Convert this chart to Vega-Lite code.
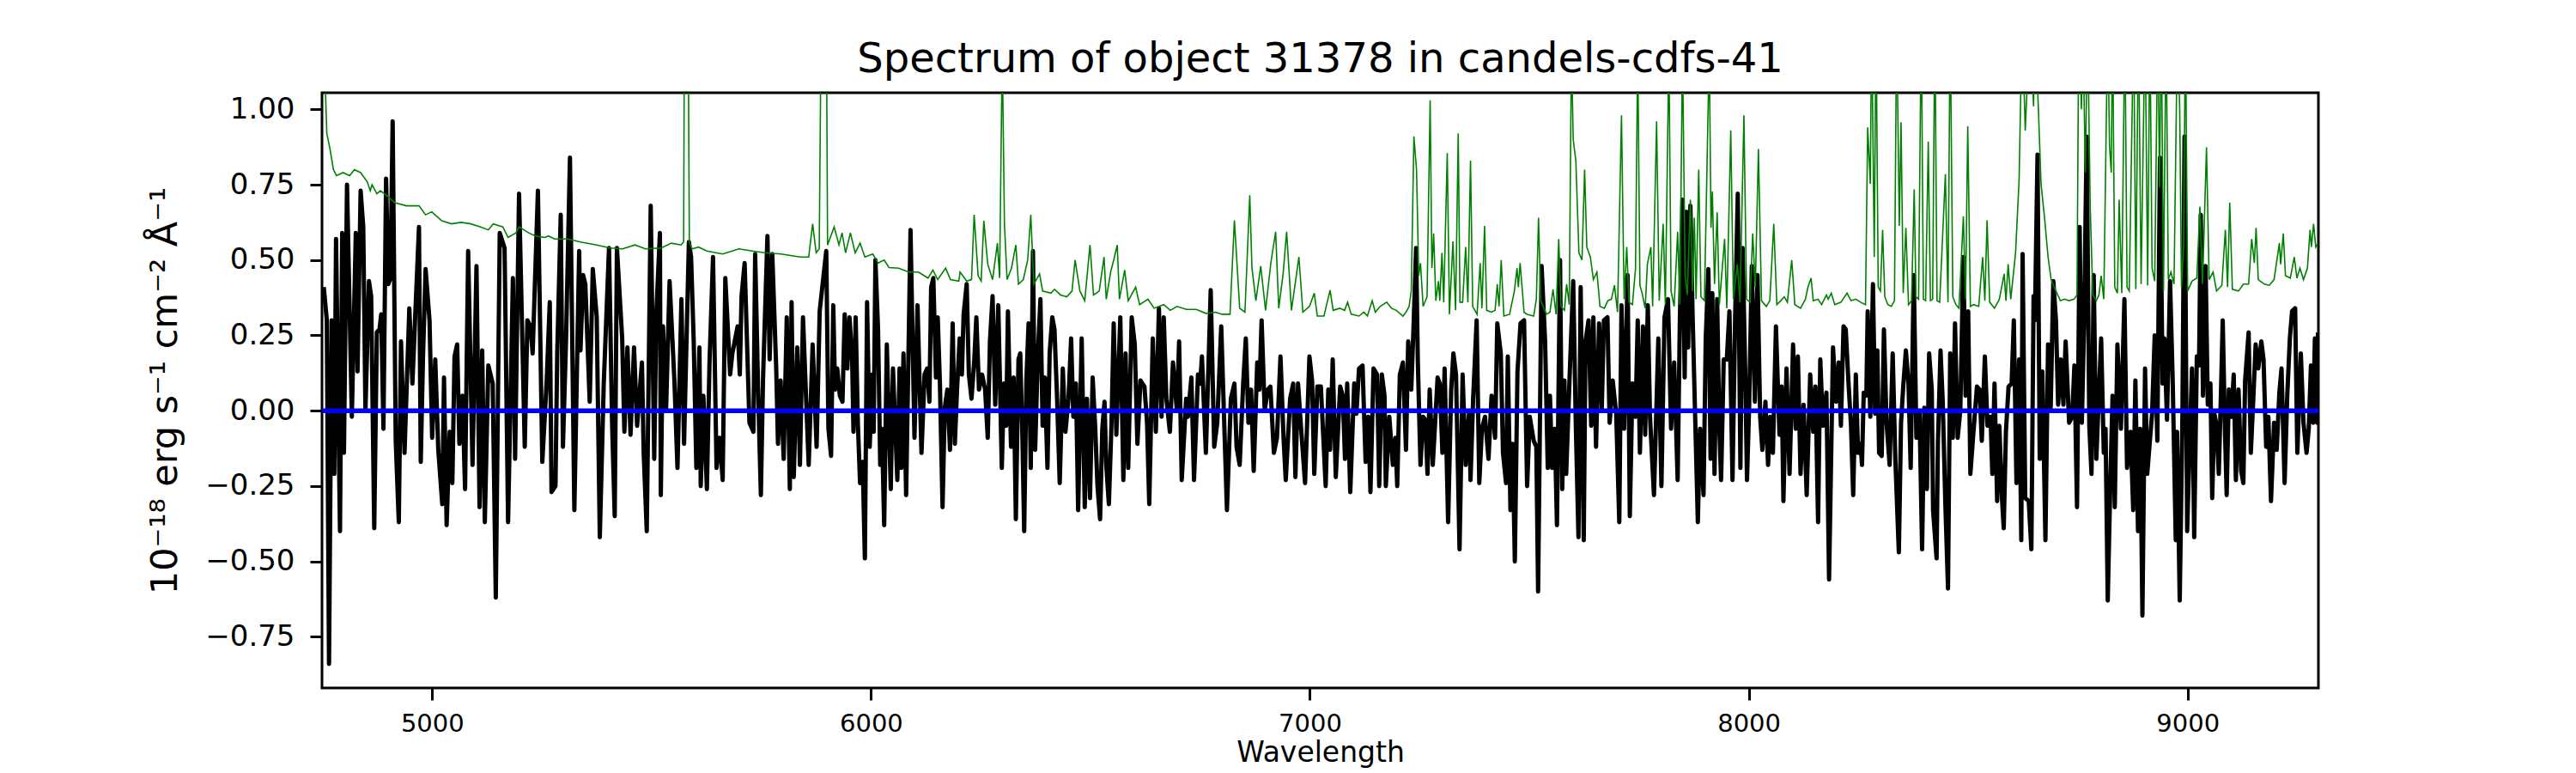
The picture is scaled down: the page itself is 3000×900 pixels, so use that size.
{
  "$schema": "https://vega.github.io/schema/vega-lite/v6.json",
  "width": 2325,
  "height": 693,
  "autosize": {"type": "none"},
  "padding": {"left": 375, "top": 108, "right": 300, "bottom": 99},
  "background": "white",
  "title": {
    "text": "Spectrum of object 31378 in candels-cdfs-41",
    "font": "DejaVu Sans",
    "fontSize": 48,
    "fontWeight": "normal",
    "color": "black",
    "anchor": "middle",
    "offset": 14
  },
  "datasets": {
    "model": [
      {"w":4749,"f":0},{"w":5000,"f":0},{"w":5500,"f":0},{"w":6000,"f":0},{"w":6500,"f":0},{"w":7000,"f":0},{"w":7500,"f":0},{"w":8000,"f":0},{"w":8500,"f":0},{"w":9000,"f":0},{"w":9298,"f":0}
    ],
    "flux": [
      {"w":4753,"f":0.41},{"w":4760,"f":0.30},{"w":4765,"f":-0.84},{"w":4771,"f":0.30},{"w":4777,"f":-0.21},{"w":4781,"f":0.57},{"w":4790,"f":-0.40},{"w":4795,"f":0.59},{"w":4799,"f":-0.14},{"w":4806,"f":0.75},{"w":4817,"f":-0.02},{"w":4826,"f":0.59},{"w":4830,"f":0.13},{"w":4837,"f":0.73},{"w":4843,"f":0.61},{"w":4848,"f":0.00},{"w":4856,"f":0.43},{"w":4861,"f":0.38},{"w":4868,"f":-0.39},{"w":4874,"f":0.26},{"w":4880,"f":0.27},{"w":4884,"f":0.32},{"w":4889,"f":-0.06},{"w":4895,"f":0.77},{"w":4900,"f":0.42},{"w":4905,"f":0.44},{"w":4910,"f":0.96},{"w":4917,"f":-0.10},{"w":4924,"f":-0.37},{"w":4929,"f":0.23},{"w":4937,"f":-0.14},{"w":4948,"f":0.34},{"w":4955,"f":0.09},{"w":4963,"f":0.37},{"w":4970,"f":0.61},{"w":4974,"f":-0.17},{"w":4979,"f":0.17},{"w":4985,"f":0.47},{"w":4994,"f":0.30},{"w":5000,"f":-0.09},
      {"w":5007,"f":0.17},{"w":5014,"f":-0.13},{"w":5023,"f":-0.31},{"w":5027,"f":0.11},{"w":5033,"f":-0.38},{"w":5040,"f":-0.07},{"w":5046,"f":-0.24},{"w":5051,"f":0.18},{"w":5057,"f":0.22},{"w":5062,"f":-0.11},{"w":5069,"f":0.05},{"w":5075,"f":-0.26},{"w":5082,"f":0.53},{"w":5092,"f":-0.18},{"w":5101,"f":0.48},{"w":5108,"f":-0.32},{"w":5114,"f":0.20},{"w":5120,"f":-0.37},{"w":5128,"f":0.15},{"w":5138,"f":0.09},{"w":5145,"f":-0.62},{"w":5154,"f":0.59},{"w":5165,"f":0.54},{"w":5173,"f":-0.37},{"w":5184,"f":0.44},{"w":5189,"f":-0.16},{"w":5198,"f":0.72},{"w":5211,"f":-0.12},{"w":5217,"f":0.30},{"w":5224,"f":0.28},{"w":5229,"f":0.19},{"w":5241,"f":0.73},{"w":5251,"f":-0.17},{"w":5261,"f":0.10},{"w":5268,"f":0.36},{"w":5272,"f":-0.27},{"w":5281,"f":-0.25},{"w":5285,"f":0.19},{"w":5293,"f":0.65},{"w":5298,"f":-0.12},
      {"w":5305,"f":0.23},{"w":5314,"f":0.84},{"w":5324,"f":-0.33},{"w":5335,"f":0.53},{"w":5338,"f":0.20},{"w":5344,"f":0.45},{"w":5349,"f":0.42},{"w":5359,"f":0.03},{"w":5366,"f":0.47},{"w":5375,"f":0.31},{"w":5382,"f":-0.42},{"w":5391,"f":0.09},{"w":5403,"f":0.54},{"w":5410,"f":-0.04},{"w":5416,"f":-0.35},{"w":5421,"f":0.54},{"w":5433,"f":0.24},{"w":5438,"f":-0.07},{"w":5445,"f":0.21},{"w":5452,"f":-0.08},{"w":5460,"f":0.21},{"w":5467,"f":-0.05},{"w":5478,"f":0.16},{"w":5482,"f":-0.14},{"w":5489,"f":-0.40},{"w":5498,"f":0.68},{"w":5506,"f":-0.16},{"w":5511,"f":0.33},{"w":5519,"f":0.59},{"w":5521,"f":-0.28},{"w":5526,"f":0.28},{"w":5533,"f":0.00},{"w":5541,"f":0.43},{"w":5552,"f":0.10},{"w":5559,"f":-0.19},{"w":5568,"f":0.37},{"w":5574,"f":-0.11},{"w":5585,"f":0.56},{"w":5590,"f":0.51},{"w":5596,"f":0.23},
      {"w":5602,"f":-0.19},{"w":5609,"f":0.21},{"w":5612,"f":-0.25},{"w":5618,"f":0.05},{"w":5626,"f":-0.26},{"w":5632,"f":0.16},{"w":5640,"f":0.51},{"w":5648,"f":-0.19},{"w":5655,"f":-0.09},{"w":5662,"f":-0.23},{"w":5668,"f":0.44},{"w":5679,"f":0.12},{"w":5684,"f":0.19},{"w":5696,"f":0.28},{"w":5701,"f":0.12},{"w":5705,"f":0.38},{"w":5712,"f":0.49},{"w":5723,"f":-0.04},{"w":5732,"f":-0.07},{"w":5736,"f":0.52},{"w":5743,"f":0.05},{"w":5749,"f":-0.28},{"w":5754,"f":0.11},{"w":5764,"f":0.58},{"w":5769,"f":0.17},{"w":5775,"f":0.52},{"w":5784,"f":0.14},{"w":5788,"f":-0.11},{"w":5794,"f":0.10},{"w":5801,"f":-0.16},{"w":5808,"f":0.31},{"w":5815,"f":-0.26},{"w":5819,"f":0.36},{"w":5824,"f":-0.22},{"w":5832,"f":0.21},{"w":5838,"f":-0.18},{"w":5845,"f":0.31},{"w":5850,"f":0.12},{"w":5858,"f":-0.18},{"w":5867,"f":0.22},{"w":5876,"f":-0.12},{"w":5883,"f":0.33},
      {"w":5898,"f":0.53},{"w":5903,"f":-0.06},{"w":5909,"f":-0.15},{"w":5914,"f":0.35},{"w":5918,"f":0.07},{"w":5923,"f":0.14},{"w":5929,"f":0.05},{"w":5935,"f":0.03},{"w":5940,"f":0.32},{"w":5946,"f":0.14},{"w":5951,"f":0.31},{"w":5957,"f":0.17},{"w":5960,"f":-0.07},{"w":5965,"f":0.31},{"w":5970,"f":-0.04},{"w":5975,"f":-0.24},{"w":5981,"f":-0.17},{"w":5986,"f":-0.49},{"w":5991,"f":0.36},{"w":5997,"f":-0.12},{"w":6003,"f":0.12},{"w":6006,"f":-0.07},{"w":6010,"f":0.50},{"w":6016,"f":0.27},{"w":6021,"f":-0.18},{"w":6025,"f":-0.06},{"w":6030,"f":-0.38},{"w":6036,"f":0.22},{"w":6045,"f":-0.26},{"w":6050,"f":0.14},{"w":6060,"f":-0.23},{"w":6065,"f":0.14},{"w":6069,"f":-0.19},{"w":6074,"f":0.19},{"w":6080,"f":-0.28},{"w":6090,"f":0.60},{"w":6099,"f":-0.09},{"w":6106,"f":0.35},{"w":6115,"f":-0.14},{"w":6122,"f":0.12},
      {"w":6128,"f":0.14},{"w":6133,"f":0.03},{"w":6137,"f":0.41},{"w":6142,"f":0.44},{"w":6148,"f":0.11},{"w":6152,"f":0.31},{"w":6157,"f":0.09},{"w":6163,"f":-0.32},{"w":6168,"f":0.01},{"w":6174,"f":0.07},{"w":6180,"f":-0.13},{"w":6186,"f":0.29},{"w":6191,"f":-0.11},{"w":6196,"f":0.07},{"w":6202,"f":0.24},{"w":6207,"f":0.12},{"w":6211,"f":0.32},{"w":6218,"f":0.42},{"w":6223,"f":0.12},{"w":6229,"f":0.04},{"w":6235,"f":0.16},{"w":6240,"f":0.31},{"w":6246,"f":0.07},{"w":6253,"f":0.12},{"w":6260,"f":0.07},{"w":6266,"f":-0.09},{"w":6271,"f":0.23},{"w":6277,"f":0.38},{"w":6283,"f":0.02},{"w":6290,"f":0.35},{"w":6298,"f":-0.19},{"w":6303,"f":0.09},{"w":6308,"f":-0.05},{"w":6312,"f":0.33},{"w":6319,"f":-0.12},{"w":6325,"f":0.11},{"w":6330,"f":-0.36},{"w":6336,"f":0.17},{"w":6340,"f":0.19},{"w":6345,"f":-0.09},
      {"w":6349,"f":-0.40},{"w":6354,"f":0.10},{"w":6359,"f":0.29},{"w":6364,"f":-0.19},{"w":6369,"f":0.53},{"w":6374,"f":-0.13},{"w":6380,"f":0.18},{"w":6386,"f":0.37},{"w":6391,"f":-0.05},{"w":6396,"f":0.11},{"w":6402,"f":-0.19},{"w":6407,"f":0.19},{"w":6413,"f":0.31},{"w":6418,"f":0.27},{"w":6424,"f":0.04},{"w":6430,"f":-0.24},{"w":6437,"f":0.14},{"w":6443,"f":-0.07},{"w":6450,"f":0.04},{"w":6456,"f":0.24},{"w":6461,"f":-0.02},{"w":6467,"f":0.09},{"w":6472,"f":-0.33},{"w":6480,"f":0.24},{"w":6487,"f":-0.32},{"w":6492,"f":0.04},{"w":6499,"f":-0.29},{"w":6505,"f":0.11},{"w":6511,"f":-0.06},{"w":6516,"f":-0.25},{"w":6522,"f":-0.36},{"w":6527,"f":-0.06},{"w":6532,"f":0.03},{"w":6536,"f":-0.18},{"w":6542,"f":-0.31},{"w":6548,"f":-0.04},{"w":6553,"f":0.29},{"w":6559,"f":-0.08},{"w":6568,"f":0.31},{"w":6575,"f":-0.23},
      {"w":6580,"f":0.19},{"w":6586,"f":-0.19},{"w":6594,"f":0.31},{"w":6601,"f":0.22},{"w":6607,"f":-0.11},{"w":6614,"f":0.10},{"w":6623,"f":0.08},{"w":6629,"f":-0.04},{"w":6634,"f":-0.31},{"w":6642,"f":0.24},{"w":6649,"f":-0.07},{"w":6656,"f":0.34},{"w":6662,"f":-0.02},{"w":6667,"f":0.31},{"w":6673,"f":0.04},{"w":6681,"f":-0.07},{"w":6688,"f":0.16},{"w":6697,"f":0.00},{"w":6702,"f":0.23},{"w":6708,"f":-0.23},{"w":6718,"f":0.04},{"w":6722,"f":-0.02},{"w":6730,"f":0.11},{"w":6736,"f":-0.23},{"w":6745,"f":0.12},{"w":6750,"f":0.09},{"w":6754,"f":0.18},{"w":6763,"f":-0.14},{"w":6774,"f":0.40},{"w":6782,"f":-0.12},{"w":6789,"f":-0.04},{"w":6798,"f":0.28},{"w":6811,"f":-0.33},{"w":6820,"f":0.04},{"w":6828,"f":0.09},{"w":6833,"f":-0.12},{"w":6840,"f":-0.18},{"w":6848,"f":0.09},{"w":6854,"f":0.24},{"w":6860,"f":-0.04},
      {"w":6866,"f":0.07},{"w":6872,"f":-0.20},{"w":6880,"f":0.16},{"w":6885,"f":0.07},{"w":6890,"f":0.30},{"w":6897,"f":0.00},{"w":6904,"f":0.07},{"w":6910,"f":0.08},{"w":6918,"f":-0.14},{"w":6925,"f":-0.09},{"w":6933,"f":0.18},{"w":6940,"f":-0.09},{"w":6945,"f":-0.23},{"w":6955,"f":0.04},{"w":6962,"f":0.09},{"w":6967,"f":-0.22},{"w":6973,"f":0.09},{"w":6980,"f":-0.06},{"w":6989,"f":-0.24},{"w":6999,"f":0.18},{"w":7005,"f":0.10},{"w":7010,"f":-0.21},{"w":7017,"f":0.08},{"w":7025,"f":0.08},{"w":7036,"f":-0.25},
      {"w":7042,"f":0.07},{"w":7046,"f":-0.13},{"w":7052,"f":0.17},{"w":7059,"f":-0.22},{"w":7069,"f":0.08},{"w":7075,"f":0.05},{"w":7080,"f":-0.16},{"w":7085,"f":0.09},{"w":7092,"f":-0.27},{"w":7101,"f":0.09},{"w":7106,"f":-0.01},{"w":7112,"f":0.14},{"w":7120,"f":0.15},{"w":7127,"f":-0.17},{"w":7133,"f":-0.02},{"w":7138,"f":-0.27},{"w":7145,"f":0.14},{"w":7153,"f":0.12},{"w":7158,"f":-0.25},{"w":7164,"f":0.12},{"w":7170,"f":0.05},{"w":7173,"f":-0.25},{"w":7181,"f":-0.02},{"w":7189,"f":-0.18},{"w":7195,"f":-0.09},{"w":7199,"f":-0.25},{"w":7205,"f":0.12},{"w":7212,"f":0.16},{"w":7219,"f":-0.13},{"w":7224,"f":0.23},{"w":7231,"f":0.07},{"w":7236,"f":0.27},{"w":7242,"f":0.54},{"w":7246,"f":0.16},{"w":7252,"f":-0.18},{"w":7258,"f":-0.02},{"w":7263,"f":-0.03},{"w":7268,"f":-0.21},{"w":7273,"f":0.07},{"w":7280,"f":-0.18},
      {"w":7285,"f":-0.05},{"w":7291,"f":0.11},{"w":7296,"f":0.09},{"w":7302,"f":-0.14},{"w":7307,"f":0.14},{"w":7315,"f":-0.37},{"w":7322,"f":0.07},{"w":7327,"f":0.19},{"w":7333,"f":0.12},{"w":7341,"f":-0.46},{"w":7348,"f":0.12},{"w":7355,"f":-0.18},{"w":7363,"f":0.00},{"w":7366,"f":-0.23},{"w":7372,"f":0.04},{"w":7380,"f":0.30},{"w":7386,"f":-0.24},{"w":7392,"f":-0.06},{"w":7399,"f":-0.02},{"w":7407,"f":-0.16},{"w":7414,"f":0.05},{"w":7422,"f":-0.09},{"w":7427,"f":0.29},{"w":7435,"f":0.19},{"w":7440,"f":-0.14},{"w":7447,"f":-0.24},{"w":7451,"f":0.18},{"w":7457,"f":-0.33},{"w":7462,"f":-0.11},{"w":7467,"f":-0.50},{"w":7473,"f":0.13},{"w":7480,"f":0.29},{"w":7488,"f":0.30},{"w":7495,"f":-0.25},{"w":7501,"f":-0.02},{"w":7510,"f":-0.10},{"w":7516,"f":-0.12},{"w":7520,"f":-0.60},{"w":7528,"f":0.48},{"w":7536,"f":0.23},
      {"w":7542,"f":-0.19},{"w":7547,"f":0.05},{"w":7552,"f":-0.19},{"w":7558,"f":-0.06},{"w":7563,"f":-0.38},{"w":7570,"f":0.50},{"w":7575,"f":-0.26},{"w":7580,"f":0.10},{"w":7584,"f":-0.21},{"w":7591,"f":0.08},{"w":7600,"f":0.43},{"w":7606,"f":-0.05},{"w":7612,"f":-0.42},{"w":7617,"f":0.41},{"w":7624,"f":-0.43},{"w":7628,"f":0.23},{"w":7635,"f":0.30},{"w":7641,"f":-0.05},{"w":7646,"f":0.31},{"w":7652,"f":-0.12},{"w":7659,"f":0.29},{"w":7665,"f":0.00},{"w":7670,"f":0.30},{"w":7678,"f":0.31},{"w":7683,"f":-0.04},{"w":7690,"f":0.10},{"w":7698,"f":-0.01},{"w":7705,"f":-0.37},{"w":7710,"f":0.35},{"w":7716,"f":-0.06},{"w":7724,"f":0.45},{"w":7729,"f":-0.35},{"w":7735,"f":0.09},{"w":7742,"f":-0.02},{"w":7747,"f":0.30},{"w":7752,"f":-0.14},{"w":7759,"f":0.28},{"w":7764,"f":-0.08},{"w":7770,"f":0.35},{"w":7775,"f":-0.02},
      {"w":7784,"f":-0.28},{"w":7794,"f":0.24},{"w":7801,"f":-0.25},{"w":7808,"f":0.31},{"w":7816,"f":0.37},{"w":7823,"f":-0.06},{"w":7830,"f":0.16},{"w":7838,"f":-0.23},{"w":7843,"f":0.30},{"w":7849,"f":0.70},{"w":7854,"f":0.11},{"w":7858,"f":0.66},{"w":7862,"f":0.21},{"w":7867,"f":0.68},{"w":7872,"f":0.32},{"w":7877,"f":0.03},{"w":7884,"f":-0.37},{"w":7889,"f":-0.06},{"w":7897,"f":-0.28},{"w":7902,"f":0.24},{"w":7908,"f":0.47},{"w":7913,"f":-0.16},{"w":7917,"f":0.39},{"w":7922,"f":-0.21},{"w":7928,"f":0.37},{"w":7933,"f":-0.06},{"w":7937,"f":-0.23},{"w":7943,"f":0.17},{"w":7950,"f":0.17},{"w":7956,"f":0.33},{"w":7963,"f":-0.23},{"w":7969,"f":0.31},{"w":7975,"f":0.72},{"w":7981,"f":-0.19},{"w":7986,"f":0.54},{"w":7992,"f":0.13},{"w":7996,"f":-0.23},{"w":8001,"f":0.02},{"w":8007,"f":0.48},{"w":8014,"f":0.03},
      {"w":8020,"f":0.45},{"w":8026,"f":-0.02},{"w":8031,"f":-0.13},{"w":8038,"f":0.03},{"w":8044,"f":-0.18},{"w":8049,"f":-0.02},{"w":8055,"f":-0.14},{"w":8062,"f":0.28},{"w":8070,"f":-0.08},{"w":8075,"f":0.08},{"w":8079,"f":-0.30},{"w":8086,"f":0.14},{"w":8093,"f":-0.21},{"w":8101,"f":0.22},{"w":8107,"f":-0.06},{"w":8112,"f":0.18},{"w":8118,"f":-0.21},{"w":8125,"f":0.02},{"w":8132,"f":-0.28},{"w":8140,"f":0.12},{"w":8147,"f":-0.07},{"w":8152,"f":0.08},{"w":8158,"f":-0.37},{"w":8163,"f":0.17},{"w":8169,"f":-0.05},{"w":8177,"f":0.06},{"w":8183,"f":-0.56},
      {"w":8192,"f":0.21},{"w":8199,"f":0.03},{"w":8205,"f":0.16},{"w":8210,"f":-0.05},{"w":8216,"f":0.28},{"w":8221,"f":0.27},{"w":8227,"f":0.10},{"w":8233,"f":-0.05},{"w":8238,"f":-0.28},{"w":8244,"f":0.12},{"w":8249,"f":-0.14},{"w":8255,"f":-0.11},{"w":8258,"f":-0.18},{"w":8262,"f":0.06},{"w":8268,"f":0.05},{"w":8271,"f":0.33},{"w":8277,"f":-0.02},{"w":8283,"f":0.42},{"w":8288,"f":-0.01},{"w":8293,"f":0.20},{"w":8297,"f":-0.14},{"w":8303,"f":-0.15},{"w":8308,"f":0.27},{"w":8314,"f":-0.04},{"w":8321,"f":-0.18},{"w":8328,"f":0.19},{"w":8334,"f":-0.16},{"w":8342,"f":-0.47},{"w":8347,"f":-0.04},{"w":8352,"f":0.08},{"w":8358,"f":0.20},{"w":8364,"f":0.09},{"w":8369,"f":-0.19},{"w":8376,"f":0.45},{"w":8382,"f":-0.09},{"w":8389,"f":0.00},{"w":8395,"f":-0.46},{"w":8400,"f":0.01},{"w":8406,"f":-0.26},{"w":8411,"f":0.19},
      {"w":8417,"f":0.07},{"w":8420,"f":-0.33},{"w":8428,"f":-0.49},{"w":8431,"f":-0.11},{"w":8437,"f":0.20},{"w":8442,"f":0.03},{"w":8448,"f":-0.31},{"w":8454,"f":-0.59},{"w":8459,"f":0.19},{"w":8465,"f":-0.09},{"w":8470,"f":0.29},{"w":8476,"f":-0.09},{"w":8482,"f":0.00},{"w":8489,"f":0.51},{"w":8494,"f":0.05},{"w":8500,"f":0.33},{"w":8505,"f":-0.21},{"w":8511,"f":-0.09},{"w":8520,"f":0.08},{"w":8526,"f":0.07},{"w":8531,"f":-0.10},{"w":8538,"f":0.18},{"w":8544,"f":-0.05},{"w":8551,"f":-0.02},{"w":8555,"f":-0.21},{"w":8560,"f":0.09},{"w":8566,"f":-0.30},{"w":8571,"f":-0.05},{"w":8577,"f":-0.29},{"w":8581,"f":-0.39},{"w":8586,"f":-0.07},{"w":8592,"f":0.08},{"w":8599,"f":0.09},{"w":8604,"f":0.30},{"w":8610,"f":-0.24},{"w":8616,"f":0.17},{"w":8621,"f":-0.43},{"w":8624,"f":0.52},{"w":8630,"f":-0.29},{"w":8638,"f":-0.30},
      {"w":8644,"f":-0.46},{"w":8649,"f":0.38},{"w":8652,"f":0.30},{"w":8658,"f":0.85},{"w":8663,"f":-0.16},{"w":8669,"f":0.13},{"w":8676,"f":-0.43},{"w":8682,"f":0.22},{"w":8688,"f":0.01},{"w":8694,"f":0.43},{"w":8700,"f":0.30},{"w":8705,"f":0.02},{"w":8711,"f":0.17},{"w":8717,"f":0.02},{"w":8722,"f":0.23},{"w":8730,"f":-0.04},{"w":8737,"f":-0.02},{"w":8742,"f":0.15},{"w":8748,"f":-0.32},{"w":8754,"f":0.61},{"w":8759,"f":-0.04},{"w":8764,"f":0.28},{"w":8770,"f":0.91},{"w":8776,"f":-0.05},{"w":8781,"f":-0.21},{"w":8786,"f":0.45},{"w":8792,"f":-0.16},{"w":8798,"f":0.06},{"w":8803,"f":0.24},{"w":8809,"f":-0.14},{"w":8813,"f":-0.06},{"w":8818,"f":-0.63},{"w":8824,"f":-0.23},{"w":8829,"f":0.05},{"w":8834,"f":-0.32},{"w":8840,"f":0.22},{"w":8848,"f":-0.06},{"w":8856,"f":0.37},{"w":8862,"f":-0.19},{"w":8870,"f":-0.07},
      {"w":8876,"f":-0.33},{"w":8881,"f":0.10},{"w":8887,"f":-0.40},{"w":8892,"f":-0.06},{"w":8897,"f":-0.68},{"w":8903,"f":0.14},{"w":8908,"f":-0.21},{"w":8914,"f":-0.10},{"w":8919,"f":-0.01},{"w":8925,"f":0.25},{"w":8931,"f":-0.10},{"w":8937,"f":0.84},{"w":8943,"f":0.09},{"w":8947,"f":0.24},{"w":8953,"f":-0.03},{"w":8960,"f":0.43},{"w":8966,"f":0.10},{"w":8973,"f":-0.43},{"w":8976,"f":-0.07},{"w":8982,"f":-0.63},{"w":8988,"f":-0.04},{"w":8993,"f":0.91},{"w":8999,"f":-0.40},{"w":9004,"f":-0.14},{"w":9010,"f":0.14},{"w":9015,"f":-0.42},{"w":9021,"f":0.18},{"w":9026,"f":0.15},{"w":9030,"f":0.65},{"w":9035,"f":0.05},{"w":9041,"f":0.48},{"w":9046,"f":0.02},{"w":9052,"f":0.09},{"w":9056,"f":-0.29},{"w":9061,"f":-0.01},{"w":9066,"f":-0.05},{"w":9071,"f":-0.21},{"w":9076,"f":0.06},{"w":9080,"f":0.30},{"w":9085,"f":-0.06},
      {"w":9089,"f":-0.28},{"w":9094,"f":0.07},{"w":9100,"f":-0.02},{"w":9105,"f":0.12},{"w":9110,"f":-0.23},{"w":9116,"f":0.07},{"w":9122,"f":-0.20},{"w":9127,"f":-0.24},{"w":9131,"f":0.10},{"w":9139,"f":0.26},{"w":9144,"f":-0.14},{"w":9150,"f":0.05},{"w":9155,"f":0.22},{"w":9161,"f":0.14},{"w":9168,"f":0.23},{"w":9173,"f":0.17},{"w":9179,"f":-0.12},{"w":9184,"f":-0.02},{"w":9190,"f":-0.30},{"w":9197,"f":-0.04},{"w":9203,"f":-0.13},{"w":9209,"f":0.06},{"w":9214,"f":0.14},{"w":9221,"f":-0.24},{"w":9227,"f":0.05},{"w":9233,"f":0.24},{"w":9238,"f":0.33},{"w":9245,"f":0.34},{"w":9250,"f":-0.14},{"w":9258,"f":0.19},{"w":9264,"f":-0.04},{"w":9271,"f":-0.14},{"w":9276,"f":-0.06},{"w":9281,"f":0.15},{"w":9286,"f":-0.04},{"w":9290,"f":0.24},{"w":9295,"f":-0.04},{"w":9297,"f":0.26}
    ],
    "noise": [
      {"w":4749,"f":1.40},{"w":4756,"f":1.10},{"w":4760,"f":0.92},{"w":4767,"f":0.87},{"w":4775,"f":0.80},{"w":4782,"f":0.78},{"w":4797,"f":0.79},{"w":4812,"f":0.78},{"w":4823,"f":0.80},{"w":4837,"f":0.79},{"w":4852,"f":0.76},{"w":4859,"f":0.73},{"w":4863,"f":0.75},{"w":4874,"f":0.72},{"w":4882,"f":0.73},{"w":4896,"f":0.715},{"w":4915,"f":0.69},{"w":4941,"f":0.68},{"w":4955,"f":0.68},{"w":4970,"f":0.68},{"w":4985,"f":0.65},{"w":4999,"f":0.66},{"w":5022,"f":0.63},{"w":5044,"f":0.62},{"w":5066,"f":0.625},{"w":5088,"f":0.62},{"w":5110,"f":0.61},{"w":5128,"f":0.60},{"w":5139,"f":0.62},{"w":5161,"f":0.61},{"w":5173,"f":0.575},{"w":5191,"f":0.59},{"w":5198,"f":0.61},{"w":5220,"f":0.59},{"w":5235,"f":0.58},{"w":5257,"f":0.575},{"w":5265,"f":0.58},{"w":5279,"f":0.57},{"w":5309,"f":0.57},{"w":5338,"f":0.56},
      {"w":5375,"f":0.55},{"w":5405,"f":0.54},{"w":5434,"f":0.537},{"w":5462,"f":0.55},{"w":5486,"f":0.537},{"w":5522,"f":0.54},{"w":5545,"f":0.556},{"w":5567,"f":0.55},{"w":5573,"f":0.56},{"w":5575,"f":1.40},{"w":5583,"f":1.40},{"w":5586,"f":0.56},{"w":5592,"f":0.537},{"w":5607,"f":0.543},{"w":5626,"f":0.53},{"w":5662,"f":0.52},{"w":5699,"f":0.537},{"w":5729,"f":0.53},{"w":5758,"f":0.524},{"w":5795,"f":0.52},{"w":5839,"f":0.51},{"w":5858,"f":0.51},{"w":5867,"f":0.62},{"w":5875,"f":0.524},{"w":5882,"f":0.537},{"w":5887,"f":1.40},{"w":5898,"f":1.40},{"w":5901,"f":0.55},
      {"w":5916,"f":0.61},{"w":5927,"f":0.55},{"w":5934,"f":0.59},{"w":5942,"f":0.524},{"w":5953,"f":0.59},{"w":5964,"f":0.524},{"w":5975,"f":0.556},{"w":5986,"f":0.51},{"w":6004,"f":0.52},{"w":6016,"f":0.49},{"w":6030,"f":0.50},{"w":6041,"f":0.475},{"w":6063,"f":0.473},{"w":6086,"f":0.46},{"w":6108,"f":0.46},{"w":6130,"f":0.44},{"w":6141,"f":0.467},{"w":6152,"f":0.435},{"w":6170,"f":0.473},{"w":6181,"f":0.435},{"w":6200,"f":0.43},{"w":6203,"f":0.46},{"w":6218,"f":0.43},{"w":6229,"f":0.435},{"w":6235,"f":0.65},{"w":6244,"f":0.448},{"w":6251,"f":0.43},{"w":6257,"f":0.63},{"w":6266,"f":0.486},{"w":6277,"f":0.435},{"w":6288,"f":0.556},{"w":6293,"f":0.44},{"w":6299,"f":1.20},{"w":6304,"f":0.62},{"w":6310,"f":0.435},{"w":6320,"f":0.473},{"w":6330,"f":0.55},{"w":6336,"f":0.42},{"w":6347,"f":0.435},{"w":6357,"f":0.50},
      {"w":6364,"f":0.65},{"w":6371,"f":0.42},{"w":6384,"f":0.454},{"w":6391,"f":0.397},{"w":6410,"f":0.39},{"w":6418,"f":0.403},{"w":6432,"f":0.384},{"w":6446,"f":0.378},{"w":6458,"f":0.397},{"w":6465,"f":0.50},{"w":6476,"f":0.397},{"w":6487,"f":0.365},{"w":6499,"f":0.55},{"w":6507,"f":0.384},{"w":6520,"f":0.397},{"w":6531,"f":0.51},{"w":6536,"f":0.37},{"w":6546,"f":0.46},{"w":6553,"f":0.50},{"w":6561,"f":0.55},{"w":6566,"f":0.37},{"w":6578,"f":0.467},{"w":6586,"f":0.365},{"w":6603,"f":0.41},{"w":6612,"f":0.352},{"w":6631,"f":0.37},{"w":6645,"f":0.34},{"w":6667,"f":0.352},{"w":6682,"f":0.333},{"w":6697,"f":0.346},{"w":6719,"f":0.336},{"w":6741,"f":0.336},{"w":6763,"f":0.323},{"w":6785,"f":0.327},{"w":6800,"f":0.32},{"w":6818,"f":0.32},{"w":6828,"f":0.632},{"w":6840,"f":0.34},{"w":6852,"f":0.327},{"w":6863,"f":0.715},
      {"w":6868,"f":0.473},{"w":6877,"f":0.365},{"w":6888,"f":0.48},{"w":6899,"f":0.333},{"w":6911,"f":0.49},{"w":6922,"f":0.594},{"w":6929,"f":0.34},{"w":6939,"f":0.454},{"w":6947,"f":0.594},{"w":6958,"f":0.333},{"w":6975,"f":0.51},{"w":6984,"f":0.327},{"w":6999,"f":0.346},{"w":7010,"f":0.39},{"w":7017,"f":0.314},{"w":7032,"f":0.314},{"w":7046,"f":0.40},
      {"w":7053,"f":0.333},{"w":7068,"f":0.34},{"w":7079,"f":0.333},{"w":7086,"f":0.36},{"w":7094,"f":0.32},{"w":7112,"f":0.314},{"w":7123,"f":0.327},{"w":7131,"f":0.314},{"w":7142,"f":0.365},{"w":7149,"f":0.327},{"w":7160,"f":0.346},{"w":7175,"f":0.36},{"w":7186,"f":0.34},{"w":7197,"f":0.333},{"w":7212,"f":0.314},{"w":7219,"f":0.327},{"w":7226,"f":0.346},{"w":7231,"f":0.397},{"w":7237,"f":0.91},{"w":7243,"f":0.80},{"w":7248,"f":0.448},{"w":7252,"f":0.49},{"w":7258,"f":0.346},{"w":7267,"f":0.378},{"w":7274,"f":1.03},{"w":7278,"f":0.473},{"w":7282,"f":0.588},{"w":7287,"f":0.365},{"w":7293,"f":0.43},{"w":7296,"f":0.365},{"w":7301,"f":0.524},{"w":7305,"f":0.36},{"w":7313,"f":0.855},{"w":7318,"f":0.32},{"w":7326,"f":0.562},{"w":7332,"f":0.333},{"w":7338,"f":0.92},{"w":7342,"f":0.36},{"w":7348,"f":0.36},{"w":7355,"f":0.543},
      {"w":7360,"f":0.36},{"w":7366,"f":0.83},{"w":7371,"f":0.346},{"w":7381,"f":0.32},{"w":7388,"f":0.49},{"w":7392,"f":0.34},{"w":7398,"f":0.613},{"w":7403,"f":0.333},{"w":7414,"f":0.327},{"w":7422,"f":0.333},{"w":7427,"f":0.42},{"w":7431,"f":0.346},{"w":7436,"f":0.50},{"w":7442,"f":0.314},{"w":7455,"f":0.32},{"w":7466,"f":0.397},{"w":7472,"f":0.473},{"w":7475,"f":0.41},{"w":7479,"f":0.49},{"w":7488,"f":0.327},{"w":7495,"f":0.32},{"w":7510,"f":0.314},{"w":7516,"f":0.37},{"w":7521,"f":0.64},{"w":7526,"f":0.365},{"w":7539,"f":0.32},{"w":7547,"f":0.327},{"w":7554,"f":0.403},{"w":7561,"f":0.32},{"w":7567,"f":0.57},{"w":7572,"f":0.346},{"w":7580,"f":0.333},{"w":7585,"f":0.42},{"w":7591,"f":0.352},{"w":7596,"f":1.20},{"w":7600,"f":0.90},{"w":7606,"f":0.83},{"w":7613,"f":0.524},{"w":7620,"f":0.50},{"w":7626,"f":0.80},
      {"w":7631,"f":0.543},{"w":7639,"f":0.51},{"w":7646,"f":0.435},{"w":7654,"f":0.46},{"w":7661,"f":0.346},{"w":7671,"f":0.34},{"w":7679,"f":0.365},{"w":7687,"f":0.37},{"w":7694,"f":0.416},{"w":7701,"f":0.327},{"w":7710,"f":0.98},{"w":7716,"f":0.37},{"w":7722,"f":0.543},{"w":7727,"f":0.36},{"w":7735,"f":0.352},{"w":7742,"f":0.473},{"w":7747,"f":1.20},{"w":7752,"f":0.416},{"w":7757,"f":0.39},{"w":7764,"f":0.34},{"w":7769,"f":0.486},{"w":7777,"f":0.543},{"w":7781,"f":0.346},{"w":7790,"f":0.96},{"w":7796,"f":0.365},{"w":7805,"f":0.62},{"w":7810,"f":0.352},{"w":7818,"f":1.20},{"w":7823,"f":0.397},{"w":7830,"f":0.346},{"w":7838,"f":0.594},{"w":7843,"f":0.352},{"w":7849,"f":1.20},{"w":7855,"f":0.448},{"w":7860,"f":0.384},{"w":7867,"f":0.70},{"w":7872,"f":0.397},{"w":7876,"f":0.64},{"w":7880,"f":0.37},{"w":7886,"f":0.80},
      {"w":7891,"f":0.378},{"w":7899,"f":0.365},{"w":7910,"f":1.20},{"w":7914,"f":0.607},{"w":7917,"f":0.728},{"w":7922,"f":0.42},{"w":7928,"f":0.658},{"w":7933,"f":0.352},{"w":7945,"f":0.57},{"w":7950,"f":0.34},{"w":7959,"f":0.93},{"w":7965,"f":0.37},{"w":7974,"f":0.486},{"w":7980,"f":0.36},{"w":7989,"f":0.98},{"w":7995,"f":0.37},{"w":8003,"f":0.36},{"w":8009,"f":0.588},{"w":8015,"f":0.41},{"w":8022,"f":0.868},{"w":8029,"f":0.365},{"w":8040,"f":0.346},{"w":8048,"f":0.365},{"w":8057,"f":0.62},{"w":8064,"f":0.352},{"w":8073,"f":0.365},{"w":8081,"f":0.378},{"w":8088,"f":0.36},{"w":8098,"f":0.50},{"w":8105,"f":0.352},{"w":8118,"f":0.34},{"w":8129,"f":0.37},{"w":8135,"f":0.41},{"w":8142,"f":0.44},{"w":8147,"f":0.365},{"w":8158,"f":0.37},{"w":8166,"f":0.352},{"w":8177,"f":0.384},{"w":8181,"f":0.37},{"w":8188,"f":0.39},
      {"w":8196,"f":0.352},{"w":8210,"f":0.36},{"w":8224,"f":0.39},{"w":8233,"f":0.365},{"w":8244,"f":0.37},{"w":8255,"f":0.36},{"w":8266,"f":0.352},{"w":8271,"f":0.94},{"w":8277,"f":0.753},{"w":8280,"f":1.30},{"w":8286,"f":0.51},{"w":8290,"f":1.30},{"w":8295,"f":0.41},{"w":8300,"f":0.397},{"w":8305,"f":0.60},{"w":8310,"f":0.378},{"w":8317,"f":0.352},{"w":8325,"f":0.346},{"w":8332,"f":0.365},{"w":8337,"f":1.30},{"w":8343,"f":0.613},{"w":8347,"f":0.957},{"w":8352,"f":0.39},{"w":8358,"f":0.607},{"w":8364,"f":0.352},{"w":8371,"f":0.365},{"w":8377,"f":0.734},{"w":8381,"f":0.378},{"w":8387,"f":0.37},{"w":8393,"f":1.30},{"w":8398,"f":0.37},{"w":8403,"f":0.365},{"w":8409,"f":0.893},{"w":8414,"f":0.365},{"w":8419,"f":0.37},{"w":8424,"f":1.30},{"w":8429,"f":0.365},{"w":8435,"f":0.36},{"w":8448,"f":0.785},{"w":8454,"f":0.36},
      {"w":8459,"f":1.30},{"w":8465,"f":0.378},{"w":8472,"f":0.352},{"w":8479,"f":0.34},{"w":8489,"f":0.645},{"w":8494,"f":0.37},{"w":8499,"f":0.944},{"w":8505,"f":0.346},{"w":8512,"f":0.352},{"w":8524,"f":0.346},{"w":8533,"f":0.51},{"w":8538,"f":0.365},{"w":8543,"f":0.632},{"w":8549,"f":0.36},{"w":8560,"f":0.34},{"w":8571,"f":0.37},{"w":8582,"f":0.454},{"w":8586,"f":0.365},{"w":8591,"f":0.486},{"w":8597,"f":0.37},{"w":8608,"f":0.524},{"w":8616,"f":0.766},{"w":8623,"f":1.30},{"w":8630,"f":0.93},{"w":8641,"f":1.30},{"w":8649,"f":1.01},{"w":8652,"f":1.30},{"w":8660,"f":1.00},{"w":8666,"f":0.753},{"w":8674,"f":0.64},{"w":8682,"f":0.51},{"w":8689,"f":0.435},{"w":8700,"f":0.397},{"w":8710,"f":0.365},{"w":8720,"f":0.37},{"w":8730,"f":0.365},{"w":8741,"f":0.37},{"w":8748,"f":0.384},{"w":8752,"f":1.30},{"w":8758,"f":1.00},
      {"w":8761,"f":1.30},{"w":8767,"f":0.79},{"w":8772,"f":1.30},{"w":8778,"f":0.677},{"w":8784,"f":0.384},{"w":8792,"f":0.365},{"w":8798,"f":0.384},{"w":8803,"f":0.448},{"w":8809,"f":0.37},{"w":8818,"f":1.30},{"w":8822,"f":0.88},{"w":8826,"f":0.79},{"w":8829,"f":1.30},{"w":8834,"f":0.41},{"w":8840,"f":0.39},{"w":8844,"f":0.70},{"w":8850,"f":0.39},{"w":8857,"f":1.30},{"w":8862,"f":0.41},{"w":8867,"f":0.397},{"w":8877,"f":1.30},{"w":8882,"f":0.403},{"w":8888,"f":1.30},{"w":8894,"f":0.42},{"w":8903,"f":1.30},{"w":8909,"f":0.416},{"w":8914,"f":1.30},{"w":8919,"f":0.473},{"w":8925,"f":0.43},{"w":8932,"f":1.30},{"w":8936,"f":0.74},{"w":8940,"f":1.30},{"w":8945,"f":0.397},{"w":8951,"f":1.30},{"w":8956,"f":0.435},{"w":8962,"f":0.46},{"w":8969,"f":0.42},{"w":8977,"f":1.30},{"w":8982,"f":0.995},{"w":8986,"f":0.41},
      {"w":8991,"f":0.55},{"w":8995,"f":1.30},{"w":9000,"f":0.397},{"w":9010,"f":0.43},{"w":9021,"f":0.44},{"w":9028,"f":0.677},{"w":9034,"f":0.42},{"w":9043,"f":0.874},{"w":9049,"f":0.435},{"w":9058,"f":0.46},{"w":9066,"f":0.397},{"w":9078,"f":0.416},{"w":9086,"f":0.60},{"w":9091,"f":0.41},{"w":9096,"f":0.69},{"w":9102,"f":0.403},{"w":9116,"f":0.397},{"w":9127,"f":0.42},{"w":9139,"f":0.42},{"w":9146,"f":0.57},{"w":9152,"f":0.49},{"w":9156,"f":0.607},{"w":9161,"f":0.435},{"w":9175,"f":0.42},{"w":9186,"f":0.416},{"w":9197,"f":0.435},{"w":9209,"f":0.556},{"w":9212,"f":0.486},{"w":9218,"f":0.588},{"w":9223,"f":0.448},{"w":9234,"f":0.44},{"w":9243,"f":0.51},{"w":9249,"f":0.44},{"w":9256,"f":0.473},{"w":9264,"f":0.435},{"w":9273,"f":0.473},{"w":9279,"f":0.60},{"w":9282,"f":0.543},{"w":9287,"f":0.62},{"w":9292,"f":0.543},{"w":9297,"f":0.556}
    ]
  },
  "encoding": {
    "x": {
      "field": "w",
      "type": "quantitative",
      "scale": {"domain": [4749, 9298], "nice": false, "zero": false},
      "axis": {
        "title": "Wavelength",
        "values": [5000, 6000, 7000, 8000, 9000],
        "format": "d",
        "labelFontSize": 29,
        "labelPadding": 13,
        "titleFontSize": 33,
        "titlePadding": 3
      }
    },
    "y": {
      "field": "f",
      "type": "quantitative",
      "scale": {"domain": [-0.92, 1.055], "nice": false, "zero": false},
      "axis": {
        "title": "10⁻¹⁸ erg s⁻¹ cm⁻² Å⁻¹",
        "values": [-0.75, -0.5, -0.25, 0, 0.25, 0.5, 0.75, 1.0],
        "format": ".2f",
        "labelFontSize": 34,
        "labelPadding": 18,
        "titleFontSize": 43,
        "titlePadding": 24
      }
    }
  },
  "layer": [
    {
      "data": {"name": "flux"},
      "mark": {"type": "line", "color": "black", "strokeWidth": 5, "clip": true, "strokeJoin": "round"}
    },
    {
      "data": {"name": "model"},
      "mark": {"type": "line", "color": "#0000ff", "strokeWidth": 5.5, "clip": true}
    },
    {
      "data": {"name": "noise"},
      "mark": {"type": "line", "color": "#008000", "strokeWidth": 1.6, "clip": true}
    }
  ],
  "config": {
    "view": {"stroke": "black", "strokeWidth": 3},
    "axis": {
      "domain": false,
      "grid": false,
      "ticks": true,
      "tickColor": "black",
      "tickWidth": 3,
      "tickSize": 14,
      "labelColor": "black",
      "titleColor": "black",
      "labelFont": "DejaVu Sans",
      "titleFont": "DejaVu Sans",
      "titleFontWeight": "normal"
    }
  }
}
